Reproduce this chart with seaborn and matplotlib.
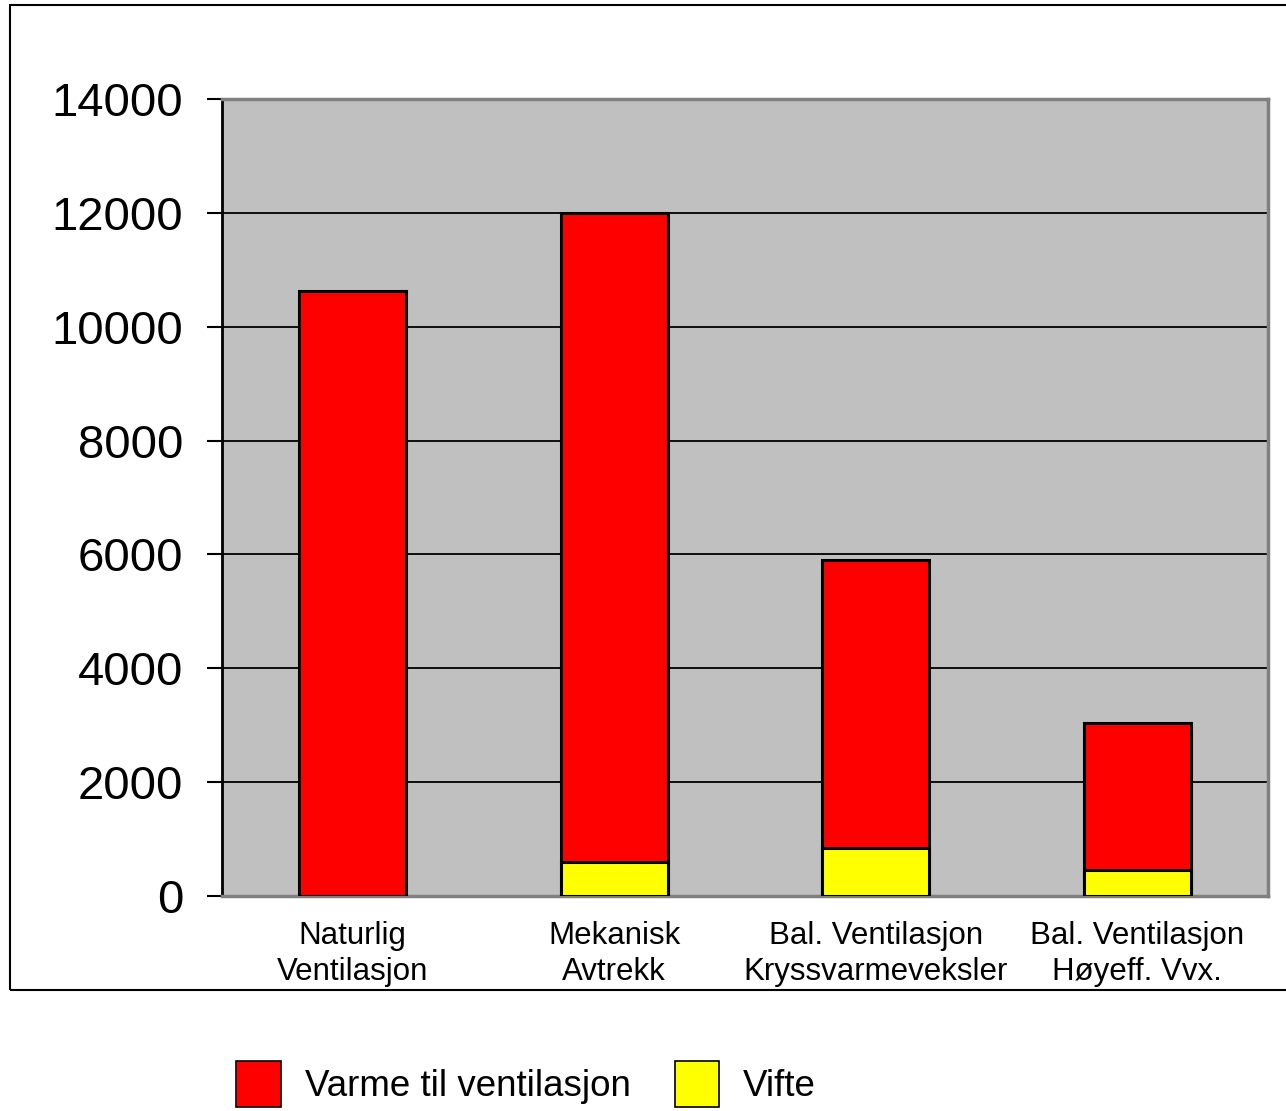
import matplotlib
matplotlib.use('Agg')
import matplotlib.pyplot as plt
import seaborn as sns
import pandas as pd
from matplotlib.patches import Rectangle, Patch

# data
kategorier = ['Naturlig\nVentilasjon', 'Mekanisk\nAvtrekk',
              'Bal. Ventilasjon\nKryssvarmeveksler', 'Bal. Ventilasjon\nHøyeff. Vvx.']
varme = [10630, 11400, 5060, 2590]   # Varme til ventilasjon
vifte = [0, 600, 850, 450]           # Vifte
yticks = [0, 2000, 4000, 6000, 8000, 10000, 12000, 14000]

sns.set_theme(style='white')
plt.rcParams['font.family'] = ['Liberation Sans', 'DejaVu Sans']
plt.rcParams['text.color'] = 'black'
plt.rcParams['xtick.labelcolor'] = 'black'
plt.rcParams['ytick.labelcolor'] = 'black'

df = pd.DataFrame({'kat': kategorier, 'varme': varme, 'vifte': vifte})
df['total'] = df['varme'] + df['vifte']

fig = plt.figure(figsize=(12.86, 11.11), dpi=100)
ax = fig.add_axes([0.1726, 0.1935, 0.9860 - 0.1726, 0.9109 - 0.1935])
ax.set_facecolor('#c0c0c0')

# stablede søyler: rød total, gul vifte nederst
sns.barplot(data=df, x='kat', y='total', color='#ff0000', saturation=1,
            width=0.41, edgecolor='black', linewidth=2.2, ax=ax, zorder=3)
sns.barplot(data=df, x='kat', y='vifte', color='#ffff00', saturation=1,
            width=0.41, edgecolor='black', linewidth=2.2, ax=ax, zorder=4)

ax.set_ylim(0, 14000)
ax.set_xlim(-0.5, 3.5)
ax.set_yticks(yticks)
ax.set_yticklabels([str(v) for v in yticks], fontsize=34)
ax.tick_params(axis='y', length=11, width=1.5, color='black', pad=17, left=True)
ax.tick_params(axis='x', length=0, pad=18)
ax.set_xticks(range(len(kategorier)))
ax.set_xticklabels(kategorier, fontsize=22.5, linespacing=1.25)
ax.set_xlabel('')
ax.set_ylabel('')

for v in yticks[1:-1]:
    ax.axhline(v, color='black', lw=1.3, zorder=1)

for s in ['top', 'right', 'bottom']:
    ax.spines[s].set_color('#808080')
    ax.spines[s].set_linewidth(2.5)
ax.spines['left'].set_color('black')
ax.spines['left'].set_linewidth(2)

# ytre ramme
fig.patches.append(Rectangle((10 / 1286, 1 - 990 / 1111), 1.0, 985 / 1111,
                             transform=fig.transFigure, fill=False,
                             edgecolor='black', lw=1.5))

handles = [Patch(facecolor='#ff0000', edgecolor='black', lw=1.2, label='Varme til ventilasjon'),
           Patch(facecolor='#ffff00', edgecolor='black', lw=1.2, label='Vifte')]
fig.legend(handles=handles, loc='center', bbox_to_anchor=(526 / 1286, 1 - 1084 / 1111),
           ncol=2, frameon=False, fontsize=26.5, handlelength=1.2, handleheight=1.55,
           handletextpad=0.65, columnspacing=1.2)

fig.savefig('out.png', dpi=100)
